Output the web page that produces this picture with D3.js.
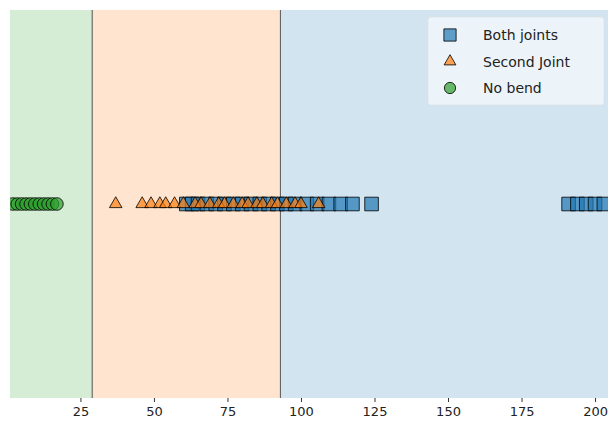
<!DOCTYPE html>
<html>
<head>
<meta charset="utf-8">
<script src="https://cdn.jsdelivr.net/npm/d3@7"></script>
<style>
  body { margin: 0; background: #fff; }
  text { font-family: "DejaVu Sans", sans-serif; }
</style>
</head>
<body>
<div id="chart"></div>
<script>
// chart size and margins
const width = 610;
const height = 427;
const margin = {left: 10, right: 2, top: 10, bottom: 29};

// data
const bothJoints = [61, 63, 65, 68, 71, 74, 77, 80, 83, 86, 89, 92, 95, 98, 102, 105.5, 109.5, 113.5, 117.5, 124, 191, 194, 197, 200, 203];
const secondJoint = [37, 46, 49, 52, 54, 57, 60, 64, 66, 69, 72, 74, 77, 80, 82, 85, 87, 90, 92, 95, 98, 100, 106];
const noBend = [2, 3.5, 5, 6.5, 8, 9.5, 11, 12.5, 14, 15.5, 17];
const thresholds = [29, 93];
const xTicks = [25, 50, 75, 100, 125, 150, 175, 200];
const legendLabels = ["Both joints", "Second Joint", "No bend"];

const blue = "#1f77b4", orange = "#ff7f0e", green = "#2ca02c";

const svg = d3.select("#chart")
  .append("svg")
  .attr("width", width)
  .attr("height", height);

const x = d3.scaleLinear()
  .domain([1.05, 204.4])
  .range([margin.left, width - margin.right]);

const y = d3.scaleLinear()
  .domain([-1, 1])
  .range([height - margin.bottom, margin.top]);

// shaded regions
const regions = [
  {from: x.domain()[0], to: thresholds[0], color: green},
  {from: thresholds[0], to: thresholds[1], color: orange},
  {from: thresholds[1], to: x.domain()[1], color: blue}
];
svg.selectAll(".region")
  .data(regions)
  .enter()
  .append("rect")
    .attr("x", d => x(d.from))
    .attr("y", margin.top)
    .attr("width", d => x(d.to) - x(d.from))
    .attr("height", height - margin.bottom - margin.top)
    .attr("fill", d => d.color)
    .attr("fill-opacity", 0.2);

// threshold lines
svg.selectAll(".thr")
  .data(thresholds)
  .enter()
  .append("line")
    .attr("x1", d => x(d)).attr("x2", d => x(d))
    .attr("y1", margin.top).attr("y2", height - margin.bottom)
    .attr("stroke", "#555")
    .attr("stroke-width", 1);

// clip markers to plot area
svg.append("clipPath").attr("id", "clip")
  .append("rect")
    .attr("x", margin.left).attr("y", margin.top)
    .attr("width", width - margin.left - margin.right)
    .attr("height", height - margin.top - margin.bottom);

const marks = svg.append("g").attr("clip-path", "url(#clip)");

const sym = {
  square: d3.symbol().type(d3.symbolSquare).size(185),
  triangle: d3.symbol().type(d3.symbolTriangle).size(68),
  circle: d3.symbol().type(d3.symbolCircle).size(125)
};

function drawSeries(data, path, color) {
  marks.selectAll(null)
    .data(data)
    .enter()
    .append("path")
      .attr("d", path)
      .attr("transform", d => `translate(${x(d)},${y(0)})`)
      .attr("fill", color)
      .attr("fill-opacity", 0.7)
      .attr("stroke", "#000")
      .attr("stroke-opacity", 0.8)
      .attr("stroke-width", 1);
}

drawSeries(bothJoints, sym.square, blue);
drawSeries(secondJoint, sym.triangle, orange);
drawSeries(noBend, sym.circle, green);

// x axis
const xAxis = svg.append("g")
  .attr("transform", `translate(0,${height - margin.bottom})`)
  .call(d3.axisBottom(x).tickValues(xTicks).tickSize(4).tickPadding(5));
xAxis.select(".domain").remove();
xAxis.selectAll("text").attr("font-size", "13px").attr("fill", "#222")
  .style("font-family", "DejaVu Sans, sans-serif");
xAxis.selectAll("line").attr("stroke", "#333");

// legend
const legend = svg.append("g").attr("transform", "translate(428,17)");
legend.append("rect")
  .attr("width", 176).attr("height", 88)
  .attr("rx", 3)
  .attr("fill", "#fff").attr("fill-opacity", 0.6)
  .attr("stroke", "#ddd").attr("stroke-opacity", 0.6);

const legendSyms = [
  {path: d3.symbol().type(d3.symbolSquare).size(150)(), color: blue},
  {path: d3.symbol().type(d3.symbolTriangle).size(60)(), color: orange},
  {path: d3.symbol().type(d3.symbolCircle).size(100)(), color: green}
];
legendLabels.forEach((lab, i) => {
  const row = legend.append("g").attr("transform", `translate(22,${18 + i * 26.5})`);
  row.append("path")
    .attr("d", legendSyms[i].path)
    .attr("fill", legendSyms[i].color)
    .attr("fill-opacity", 0.7)
    .attr("stroke", "#000").attr("stroke-opacity", 0.8);
  row.append("text")
    .attr("x", 33).attr("y", 5)
    .attr("font-size", "14px")
    .attr("fill", "#222")
    .text(lab);
});
</script>
</body>
</html>
